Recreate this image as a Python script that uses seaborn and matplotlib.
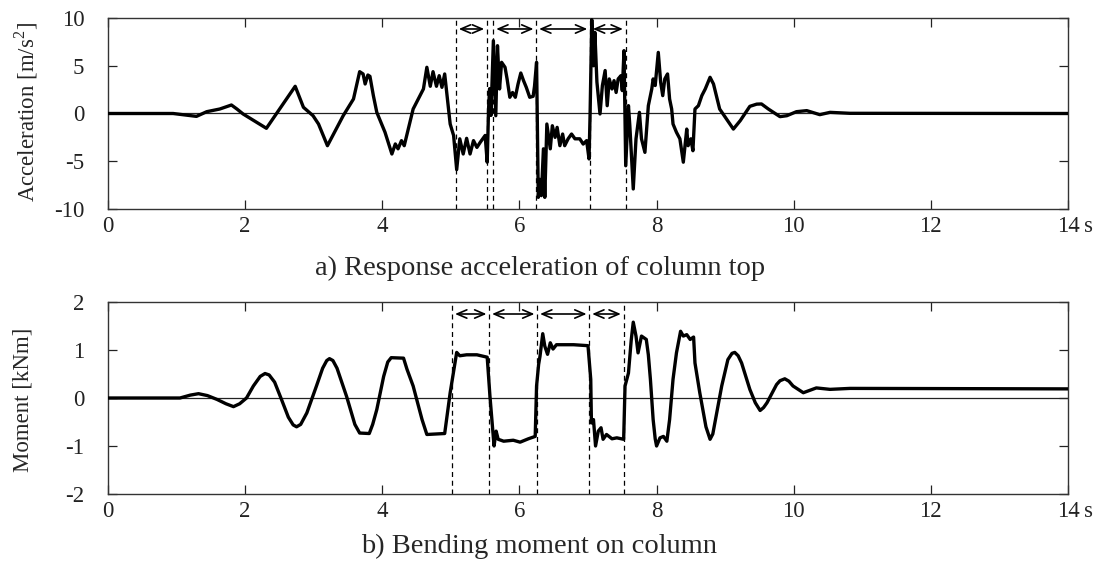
import matplotlib
matplotlib.use("Agg")
import matplotlib.pyplot as plt
import seaborn as sns
import pandas as pd

# response acceleration of column top (time s, m/s2)
acc_t = [0.0, 0.95, 1.29, 1.44, 1.63, 1.80, 1.88, 1.97, 2.31, 2.73, 2.85, 2.99, 3.07, 3.20,
         3.43, 3.58, 3.67, 3.72, 3.75, 3.79, 3.82, 3.87, 3.92, 4.04, 4.14, 4.19, 4.23, 4.28,
         4.32, 4.45, 4.60, 4.65, 4.70, 4.74, 4.79, 4.83, 4.87, 4.91, 4.95, 4.99, 5.04, 5.085,
         5.13, 5.18, 5.23, 5.28, 5.33, 5.38, 5.43, 5.50, 5.53, 5.55, 5.565, 5.585, 5.62, 5.655,
         5.68, 5.71, 5.74, 5.79, 5.82, 5.86, 5.90, 5.94, 5.98, 6.02, 6.06, 6.10, 6.15, 6.20,
         6.22, 6.25, 6.26, 6.275, 6.30, 6.32, 6.35, 6.37, 6.40, 6.45, 6.48, 6.52, 6.55, 6.59,
         6.63, 6.66, 6.71, 6.76, 6.81, 6.88, 6.93, 6.98, 7.015, 7.03, 7.055, 7.08, 7.10, 7.13,
         7.175, 7.21, 7.25, 7.28, 7.31, 7.35, 7.38, 7.41, 7.44, 7.48, 7.50, 7.525, 7.55, 7.59,
         7.61, 7.66, 7.70, 7.75, 7.78, 7.83, 7.88, 7.93, 7.95, 7.98, 8.025, 8.06, 8.09, 8.12,
         8.16, 8.19, 8.22, 8.24, 8.29, 8.34, 8.39, 8.44, 8.46, 8.50, 8.53, 8.56, 8.61, 8.66,
         8.71, 8.78, 8.83, 8.92, 9.02, 9.12, 9.22, 9.36, 9.46, 9.53, 9.63, 9.80, 9.90, 10.04,
         10.19, 10.38, 10.53, 10.82, 14.0]
acc_v = [0.0, 0.0, -0.3, 0.19, 0.47, 0.89, 0.47, -0.05, -1.55, 2.85, 0.65, -0.23, -1.1, -3.37,
         -0.23, 1.52, 4.38, 4.14, 3.09, 4.03, 3.89, 1.87, 0.12, -1.97, -4.24, -3.19, -3.7, -2.84,
         -3.37, 0.47, 2.57, 4.84, 2.85, 4.38, 2.85, 3.96, 2.74, 4.14, 1.52, -1.1, -2.3, -5.88,
         -2.65, -4.24, -2.6, -4.24, -2.84, -3.55, -3.0, -2.3, -5.1, 0.5, 2.6, -0.2, 7.62, -0.23,
         7.1, 2.57, 5.36, 4.84, 3.62, 1.7, 2.2, 1.7, 3.09, 4.24, 3.44, 2.74, 1.7, 1.8,
         2.85, 5.36, -0.23, -8.78, -6.9, -8.6, -3.7, -8.78, -1.1, -3.7, -1.28, -2.5, -1.45, -3.37,
         -2.15, -3.37, -2.65, -2.15, -2.65, -2.65, -3.2, -2.84, -4.76, -0.23, 9.82, 5.0, 8.5, 3.3,
         -0.05, 2.93, 4.5, 0.82, 3.62, 2.57, 3.44, 2.2, 3.62, 3.96, 2.4, 6.58, -5.47, 0.82,
         -1.28, -7.9, -2.65, 0.12, -2.65, -4.07, 0.82, 2.57, 3.62, 2.93, 6.4, 3.26, 1.87, 3.62,
         4.14, 1.52, 0.47, -1.1, -1.97, -2.65, -5.1, -1.63, -3.37, -2.65, -3.9, 0.47, 0.82, 1.87,
         2.57, 3.79, 3.09, 0.47, -0.58, -1.63, -0.75, 0.75, 0.98, 1.0, 0.47, -0.33, -0.23, 0.19,
         0.3, -0.12, 0.12, 0.02, 0.0]

# bending moment on column (time s, kNm)
mom_t = [0.0, 1.05, 1.20, 1.32, 1.45, 1.59, 1.72, 1.83, 1.92, 2.02, 2.12, 2.22, 2.29, 2.35,
         2.43, 2.53, 2.63, 2.70, 2.75, 2.81, 2.90, 3.04, 3.13, 3.19, 3.23, 3.28, 3.34, 3.48,
         3.60, 3.67, 3.81, 3.86, 3.92, 4.02, 4.08, 4.13, 4.31, 4.36, 4.45, 4.58, 4.65, 4.91,
         4.99, 5.03, 5.085, 5.13, 5.23, 5.38, 5.53, 5.57, 5.61, 5.63, 5.66, 5.69, 5.77, 5.91,
         6.01, 6.13, 6.23, 6.25, 6.28, 6.30, 6.34, 6.37, 6.41, 6.45, 6.49, 6.54, 6.79, 7.00,
         7.04, 7.05, 7.08, 7.11, 7.15, 7.19, 7.22, 7.27, 7.35, 7.42, 7.52, 7.54, 7.59, 7.63,
         7.66, 7.70, 7.73, 7.78, 7.85, 7.88, 7.91, 7.95, 7.98, 8.00, 8.05, 8.10, 8.15, 8.19,
         8.24, 8.29, 8.35, 8.39, 8.44, 8.49, 8.54, 8.56, 8.63, 8.72, 8.78, 8.82, 8.85, 8.95,
         9.04, 9.10, 9.14, 9.19, 9.24, 9.36, 9.44, 9.51, 9.56, 9.61, 9.75, 9.80, 9.87, 9.93,
         9.99, 10.14, 10.33, 10.53, 10.82, 14.0]
mom_v = [0.0, 0.0, 0.06, 0.09, 0.05, -0.03, -0.12, -0.18, -0.12, 0.0, 0.25, 0.45, 0.51, 0.48,
         0.33, -0.03, -0.4, -0.56, -0.6, -0.55, -0.31, 0.25, 0.62, 0.78, 0.82, 0.78, 0.62, 0.03,
         -0.55, -0.73, -0.74, -0.55, -0.24, 0.45, 0.75, 0.84, 0.83, 0.6, 0.25, -0.45, -0.76, -0.74,
         0.11, 0.46, 0.95, 0.88, 0.9, 0.9, 0.85, 0.04, -0.66, -1.0, -0.69, -0.86, -0.9, -0.88,
         -0.92, -0.85, -0.8, 0.25, 0.7, 0.87, 1.34, 1.08, 0.91, 1.15, 1.02, 1.11, 1.11, 1.09,
         0.39, -0.52, -0.45, -1.0, -0.69, -0.62, -0.86, -0.76, -0.85, -0.83, -0.86, 0.25, 0.52, 1.2,
         1.58, 1.29, 0.94, 1.29, 1.22, 0.9, 0.39, -0.45, -0.85, -1.0, -0.83, -0.8, -0.9, -0.45,
         0.39, 0.94, 1.39, 1.29, 1.32, 1.22, 1.27, 0.73, 0.11, -0.6, -0.86, -0.75, -0.52, 0.25,
         0.8, 0.93, 0.95, 0.88, 0.73, 0.18, -0.1, -0.26, -0.2, -0.1, 0.28, 0.36, 0.4, 0.35,
         0.25, 0.11, 0.21, 0.18, 0.2, 0.19]

# phase boundaries (dashed lines)
acc_marks = [5.075, 5.527, 5.62, 6.246, 7.03, 7.55]
mom_marks = [5.02, 5.56, 6.26, 7.02, 7.52]

x_ticks = [0, 2, 4, 6, 8, 10, 12, 14]
acc_ticks = [-10, -5, 0, 5, 10]
mom_ticks = [-2, -1, 0, 1, 2]

sns.set_style("ticks")
plt.rcParams["font.family"] = ["Liberation Serif", "DejaVu Serif"]
plt.rcParams["mathtext.fontset"] = "custom"
plt.rcParams["mathtext.rm"] = "Liberation Serif"
plt.rcParams["axes.unicode_minus"] = False

W, H = 1097, 567
fig = plt.figure(figsize=(W / 100, H / 100), dpi=100)
ax1 = fig.add_axes([108 / W, 1 - 209 / H, 960 / W, 191 / H])
ax2 = fig.add_axes([108 / W, 1 - 494 / H, 960 / W, 192 / H])

fs = 16.5


def style_axes(ax, yticks, ylim):
    ax.set_xlim(0, 14)
    ax.set_ylim(*ylim)
    ax.set_xticks(x_ticks)
    ax.set_xticklabels([str(v) for v in x_ticks])
    ax.set_yticks(yticks)
    ax.set_yticklabels([str(v) for v in yticks])
    ax.tick_params(direction="in", length=6.5, width=0.9, top=True, right=True,
                   labelsize=fs, colors="#222222")
    ax.tick_params(axis="y", pad=17)
    ax.tick_params(axis="x", pad=5)
    for s in ax.spines.values():
        s.set_linewidth(1.0)
        s.set_color("#333333")
    ax.axhline(0, color="#222222", lw=0.9, zorder=1)
    ax.set_xlabel("")
    ax.set_ylabel("")
    # unit after the last tick label
    ax.annotate("s", xy=(14, 0), xycoords=("data", "axes fraction"), xytext=(11.5, -5),
                textcoords="offset points", ha="left", va="top", fontsize=fs)


def phases(ax, marks, y):
    for m in marks:
        ax.axvline(m, color="black", lw=0.9, ls=(0, (4, 3)), zorder=2)
    for a, b in zip(marks[:-1], marks[1:]):
        if b - a < 0.15:
            continue
        ax.annotate("", xy=(b, y), xytext=(a, y),
                    arrowprops=dict(arrowstyle="<->,head_length=0.7,head_width=0.3",
                                    lw=1.2, color="black", shrinkA=2, shrinkB=2))


df_acc = pd.DataFrame({"t": acc_t, "a": acc_v})
df_mom = pd.DataFrame({"t": mom_t, "m": mom_v})

sns.lineplot(data=df_acc, x="t", y="a", ax=ax1, color="black", lw=2.4, estimator=None, zorder=3)
sns.lineplot(data=df_mom, x="t", y="m", ax=ax2, color="black", lw=2.4, estimator=None, zorder=3)

style_axes(ax1, acc_ticks, (-10, 10))
style_axes(ax2, mom_ticks, (-2, 2))

phases(ax1, acc_marks, 8.85)
phases(ax2, mom_marks, 1.75)

fig.text(26 / W, 1 - 112 / H, "Acceleration [m/s$^2$]", rotation=90, ha="center", va="center", fontsize=fs)
fig.text(23 / W, 1 - 400 / H, "Moment [kNm]", rotation=90, ha="center", va="center", fontsize=fs)
fig.text(540 / W, 1 - 268 / H, "a) Response acceleration of column top", ha="center", va="center", fontsize=20.5)
fig.text(539 / W, 1 - 546 / H, "b) Bending moment on column", ha="center", va="center", fontsize=20.5)

fig.savefig("out.png", dpi=100)
